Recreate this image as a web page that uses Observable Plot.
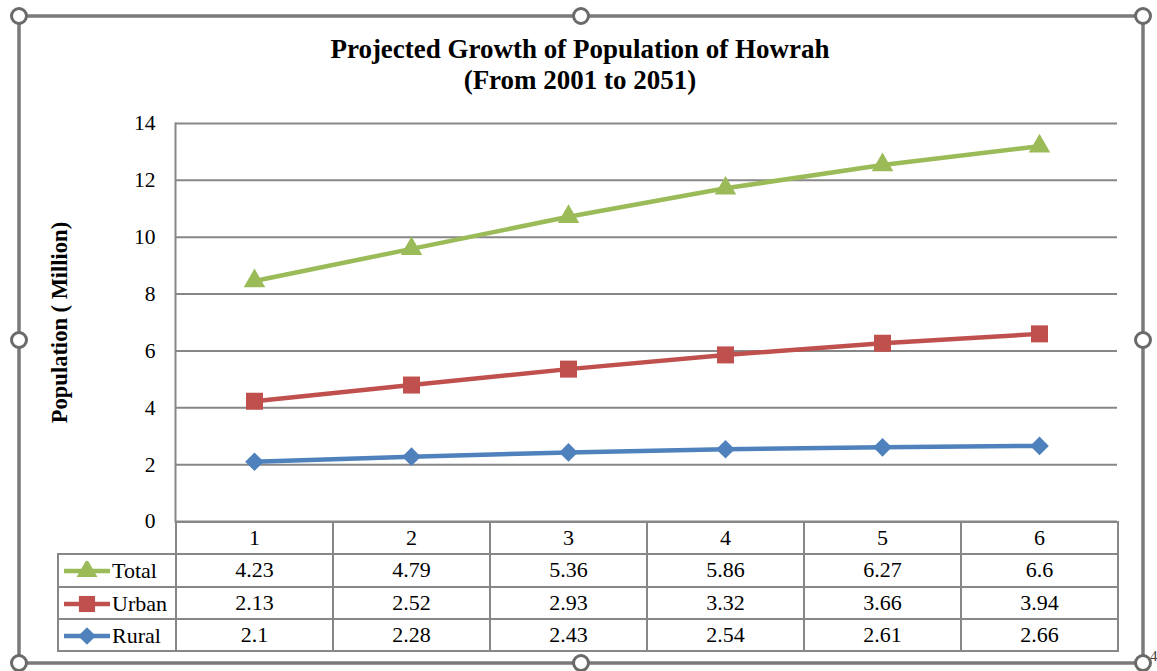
<!DOCTYPE html>
<html>
<head>
<meta charset="utf-8">
<script src="https://cdn.jsdelivr.net/npm/d3@7"></script>
<script src="https://cdn.jsdelivr.net/npm/@observablehq/plot@0.6"></script>
<style>
  html, body { margin: 0; padding: 0; background: #fff; }
  #wrap { position: relative; width: 1157px; height: 671px; overflow: hidden;
          font-family: "Liberation Serif", "Times New Roman", serif; color: #000; }
  #title { position: absolute; left: 0; top: 34px; width: 1160px; text-align: center;
           font-weight: bold; font-size: 27px; line-height: 31px; }
  #chart { position: absolute; left: 0; top: 0; }
  #chart g[aria-label="y-axis label"] text { font-weight: bold; font-size: 22.5px; }
  #dt { position: absolute; left: 57px; top: 521px; border-collapse: collapse;
        table-layout: fixed; width: 1060px; font-size: 22px;
        font-family: "Liberation Serif", "Times New Roman", serif; }
  #dt td { border: 2px solid #878787; padding: 0; text-align: center; line-height: 22px; }
  #dt tr { height: 32.3px; }
  #dt td.blank { border-top: none; border-left: none; }
  #dt td.key { text-align: left; white-space: nowrap; padding-left: 2px; }
  #dt td.key svg { vertical-align: middle; margin-right: 1px; }
  #dt td.key span { vertical-align: middle; }
  #pageNo { position: absolute; left: 1150px; top: 648px; font-size: 15px; color: #444; }
</style>
</head>
<body>
<div id="wrap">
  <div id="title"></div>
  <div id="chart"></div>
  <div id="pageNo">4</div>
</div>
<script>
// Projected population of Howrah (million), census steps 2001 … 2051
const categories = [1, 2, 3, 4, 5, 6];
const totalValues = [4.23, 4.79, 5.36, 5.86, 6.27, 6.6];
const urbanValues = [2.13, 2.52, 2.93, 3.32, 3.66, 3.94];
const ruralValues = [2.1, 2.28, 2.43, 2.54, 2.61, 2.66];
const seriesNames = ["Total", "Urban", "Rural"];
const yTicks = [0, 2, 4, 6, 8, 10, 12, 14];
const titleLines = ["Projected Growth of Population of Howrah", "(From 2001 to 2051)"];
const yLabel = "Population ( Million)";

const valuesBySeries = {Total: totalValues, Urban: urbanValues, Rural: ruralValues};

// long-format rows for Plot
const rows = seriesNames.flatMap(s =>
  categories.map((c, i) => ({category: c, series: s, value: valuesBySeries[s][i]}))
);

const palette = {Total: "#9BBB59", Urban: "#C0504D", Rural: "#4F81BD"};
const symbols = {Total: "triangle", Urban: "square", Rural: "diamond2"};
const markerR = {Total: 8, Urban: 9.6, Rural: 8.4};
const fontFamily = "'Liberation Serif', 'Times New Roman', serif";

// title
d3.select("#title").selectAll("div").data(titleLines).join("div").text(d => d);

// stacked lines: Rural at the bottom, Urban on top of it, Total on top of both
const stackOpts = {x: "category", y: "value", z: "series", order: ["Rural", "Urban", "Total"]};

const chart = Plot.plot({
  width: 1157,
  height: 530,
  marginTop: 123,
  marginBottom: 9,
  marginLeft: 175,
  marginRight: 40,
  style: {fontFamily, fontSize: "21.5px", color: "#000", background: "transparent", overflow: "visible"},
  x: {type: "point", domain: categories, padding: 0.5, axis: null},
  y: {domain: [0, 14], axis: null},
  color: {domain: seriesNames, range: seriesNames.map(s => palette[s])},
  symbol: {domain: seriesNames, range: seriesNames.map(s => symbols[s])},
  r: {type: "identity"},
  marks: [
    Plot.gridY(yTicks, {stroke: "#878787", strokeOpacity: 1, strokeWidth: 2}),
    Plot.frame({anchor: "left", stroke: "#878787", strokeWidth: 2}),
    Plot.axisY(yTicks, {
      tickSize: 0, tickPadding: 20, fontSize: 21.5, fontFamily,
      label: yLabel, labelAnchor: "center", labelOffset: 124, labelArrow: "none"
    }),
    Plot.lineY(rows, Plot.stackY2({...stackOpts, stroke: "series", strokeWidth: 4.5})),
    Plot.dot(rows, Plot.stackY2({
      ...stackOpts, fill: "series", symbol: "series", r: d => markerR[d.series]
    }))
  ]
});
document.getElementById("chart").append(chart);

// data table under the plot
const table = d3.select("#wrap").append("table").attr("id", "dt");
const colgroup = table.append("colgroup");
colgroup.append("col").style("width", "118px");
categories.forEach(() => colgroup.append("col").style("width", "157px"));

const header = table.append("tr");
header.append("td").attr("class", "blank");
categories.forEach(c => header.append("td").text(c));

const symbolTypes = {
  Total: d3.symbolTriangle,
  Urban: d3.symbolSquare,
  Rural: d3.symbolDiamond2 || d3.symbolDiamond
};
const symbolSizes = {Total: 190, Urban: 260, Rural: 200};

seriesNames.forEach(s => {
  const tr = table.append("tr");
  const key = tr.append("td").attr("class", "key");
  const sw = key.append("svg").attr("width", 50).attr("height", 20);
  sw.append("line").attr("x1", 3).attr("x2", 49).attr("y1", 10).attr("y2", 10)
    .attr("stroke", palette[s]).attr("stroke-width", 4.5);
  sw.append("path").attr("transform", "translate(26,10)")
    .attr("d", d3.symbol(symbolTypes[s], symbolSizes[s])())
    .attr("fill", palette[s]);
  key.append("span").text(s);
  valuesBySeries[s].forEach(v => tr.append("td").text(v));
});

// selection frame with its resize handles
const deco = d3.select("#wrap").append("svg")
  .attr("width", 1157).attr("height", 671)
  .style("position", "absolute").style("left", 0).style("top", 0)
  .style("pointer-events", "none");
deco.append("rect").attr("x", 19).attr("y", 16).attr("width", 1124).attr("height", 647)
  .attr("fill", "none").attr("stroke", "#7a7a7a").attr("stroke-width", 3.5);
const hx = [19, 581, 1143], hy = [16, 340, 663];
const handles = [];
hx.forEach(x => hy.forEach(y => { if (!(x === 581 && y === 340)) handles.push([x, y]); }));
deco.selectAll("circle").data(handles).join("circle")
  .attr("cx", d => d[0]).attr("cy", d => d[1]).attr("r", 7.5)
  .attr("fill", "#fff").attr("stroke", "#6a6a6a").attr("stroke-width", 3);
</script>
</body>
</html>
